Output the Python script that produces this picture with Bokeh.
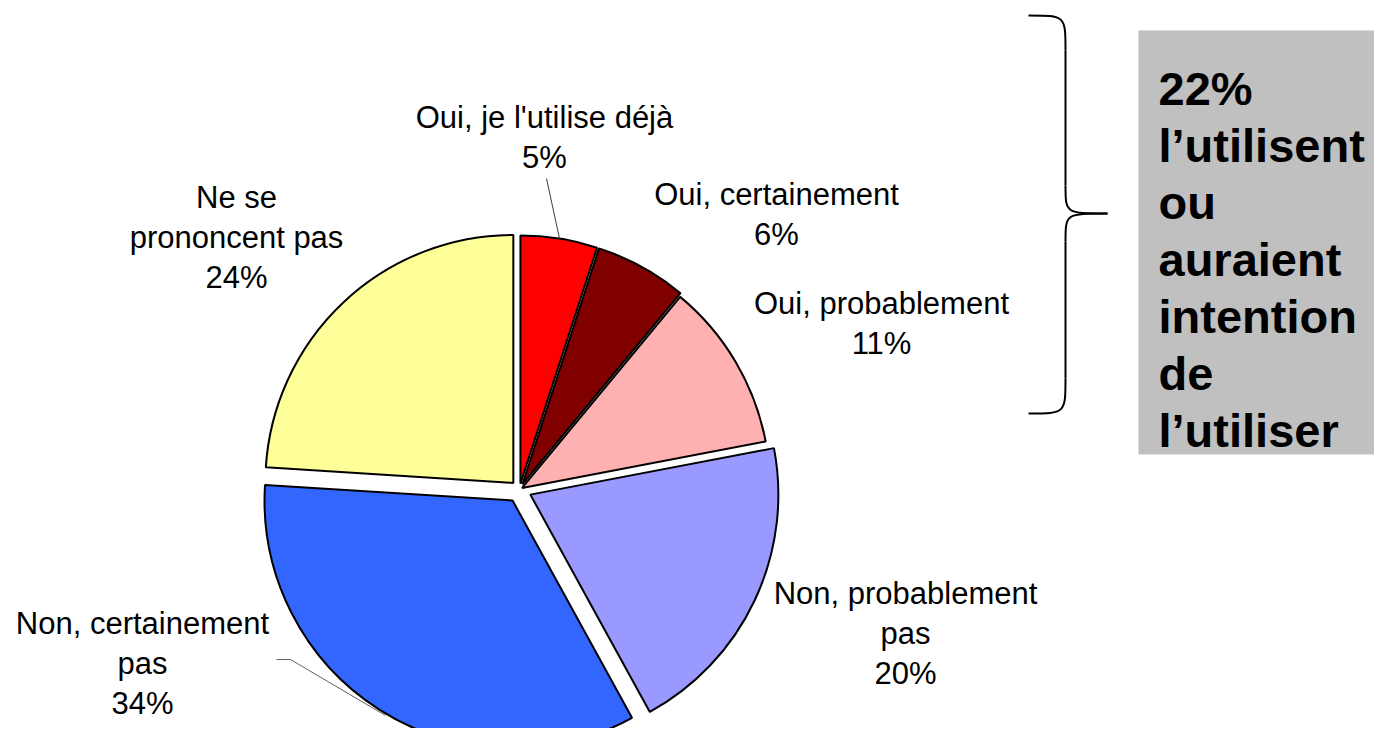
import math
from bokeh.plotting import figure
from bokeh.models import Range1d, ColumnDataSource
from bokeh.core.properties import value
from bokeh.embed import file_html
from bokeh.resources import INLINE

# ---- data ----
categories = ["Oui, je l'utilise déjà", "Oui, certainement", "Oui, probablement",
              "Non, probablement\npas", "Non, certainement\npas", "Ne se\nprononcent pas"]
values = [5, 6, 11, 20, 34, 24]
summary_lines = ["22%", "l’utilisent", "ou", "auraient", "intention", "de", "l’utiliser"]

# ---- style / layout ----
colors = ["#FF0000", "#800000", "#FFB0B0", "#9999FF", "#3366FF", "#FFFF99"]
explode = [6, 6, 3, 12, 13, 9]
label_pos = [(544, 117), (776, 194), (881, 303), (905, 593), (142, 623), (236, 197)]
H = 744
CX, CY = 519, 489
R = 248
FONT = value("Liberation Sans")
W_FIG, H_FIG = 1374, 728


def Y(y):
    return H - y


p = figure(width=W_FIG, height=H_FIG, x_range=Range1d(0, W_FIG), y_range=Range1d(H - H_FIG, H),
           x_axis_type=None, y_axis_type=None, output_backend="svg", toolbar_location=None,
           min_border=0)
p.outline_line_color = None
p.grid.visible = False
p.background_fill_color = "white"

# ---- pie ----
total = sum(values)
xs, ys, starts, ends = [], [], [], []
cum = 0.0
for v, d in zip(values, explode):
    a0 = 90 - cum / total * 360
    a1 = 90 - (cum + v) / total * 360
    mid = math.radians((a0 + a1) / 2)
    xs.append(CX + d * math.cos(mid))
    ys.append(Y(CY) + d * math.sin(mid))
    starts.append(math.radians(a0))
    ends.append(math.radians(a1))
    cum += v

src = ColumnDataSource(dict(x=xs, y=ys, s=starts, e=ends, c=colors))
p.wedge(x="x", y="y", radius=R, radius_units="screen", start_angle="s", end_angle="e",
        direction="clock", fill_color="c", line_color="black", line_width=2, source=src)

# ---- leader lines ----
p.line([546, 559], [Y(178), Y(238)], line_color="#404040", line_width=1)
p.line([276, 290, 385], [Y(659), Y(659), Y(715)], line_color="#606060", line_width=1)

# ---- labels ----
lx, ly, lt = [], [], []
for cat, v, (x0, y0) in zip(categories, values, label_pos):
    lines = cat.split("\n") + [f"{v}%"]
    for i, t in enumerate(lines):
        lx.append(x0)
        ly.append(Y(y0 + 40 * i))
        lt.append(t)
p.text(lx, ly, text=lt, text_font=FONT, text_font_size="31px", text_align="center",
       text_baseline="middle", text_color="black")

# ---- summary box ----
p.quad(left=[1138], right=[1400], top=[Y(30)], bottom=[Y(454)], fill_color="#C0C0C0",
       line_color=None)
bx = [1158] * len(summary_lines)
by = [Y(88 + 57 * i) for i in range(len(summary_lines))]
p.text(bx, by, text=summary_lines, text_font=FONT, text_font_size="47px",
       text_font_style="bold", text_align="left", text_baseline="alphabetic",
       text_color="black")

# ---- brace ----
bz = dict(
    x0=[1028, 1065, 1107, 1065],
    y0=[Y(15), Y(185), Y(213), Y(378)],
    x1=[1065, 1107, 1065, 1028],
    y1=[Y(50), Y(213), Y(241), Y(413)],
    cx0=[1065, 1065, 1065, 1065],
    cy0=[Y(15), Y(213), Y(213), Y(413)],
    cx1=[1065, 1065, 1065, 1065],
    cy1=[Y(15), Y(213), Y(213), Y(413)],
)
p.bezier(x0=bz["x0"], y0=bz["y0"], x1=bz["x1"], y1=bz["y1"], cx0=bz["cx0"], cy0=bz["cy0"],
         cx1=bz["cx1"], cy1=bz["cy1"], line_color="black", line_width=2)
p.segment(x0=[1065, 1065], y0=[Y(50), Y(241)], x1=[1065, 1065], y1=[Y(185), Y(378)],
          line_color="black", line_width=2)

open("out.html", "w").write(file_html(p, INLINE))
